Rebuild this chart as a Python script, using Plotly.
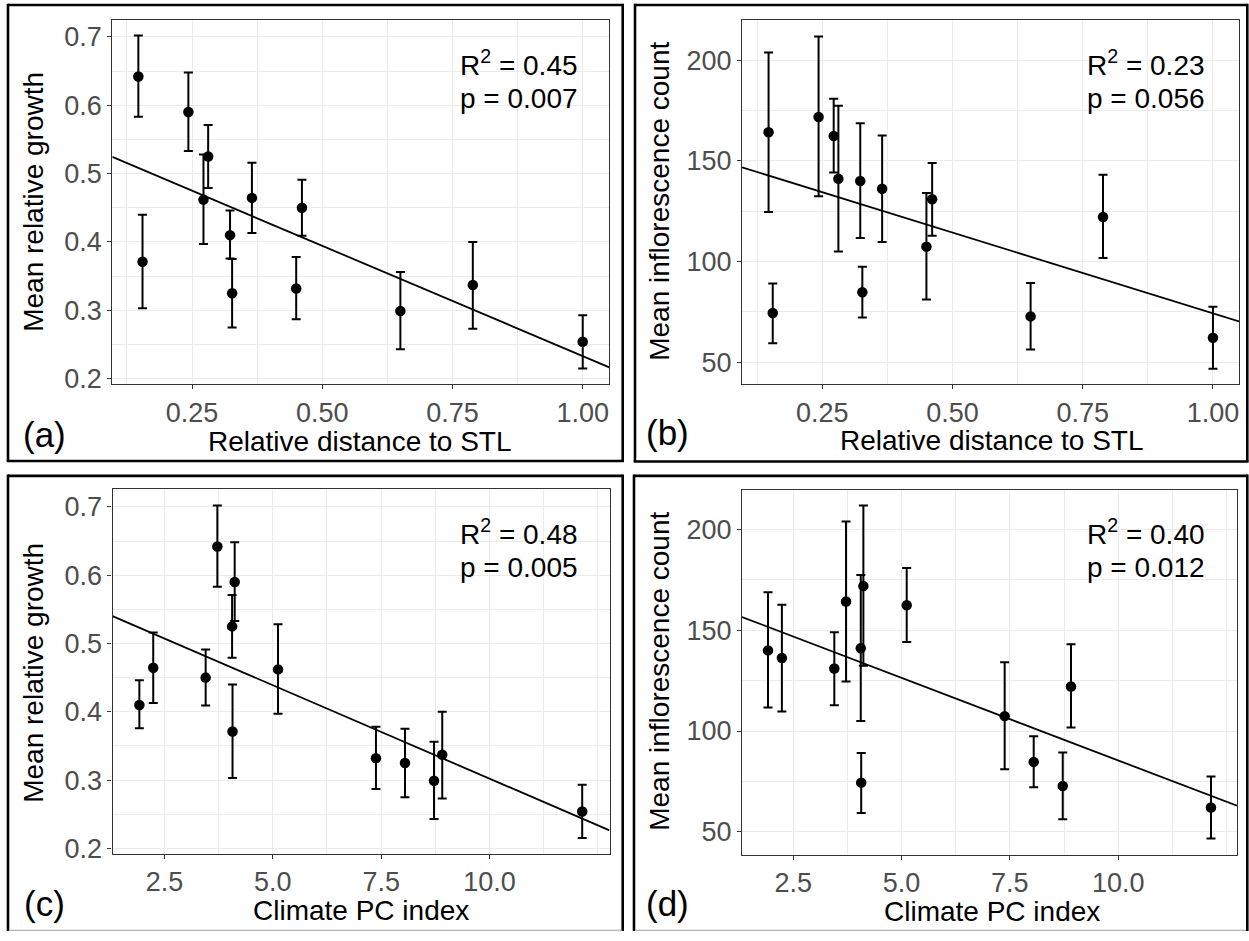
import numpy as np
import plotly.graph_objects as go

# ---------------- data ----------------
rel_distance = [0.147, 0.155, 0.243, 0.272, 0.281, 0.323, 0.327, 0.365, 0.450, 0.461, 0.650, 0.789, 1.000]
climate_pc = [3.72, 4.07, 4.12, 5.12, 4.06, 1.92, 8.05, 2.24, 7.38, 3.45, 8.72, 8.91, 12.14]

growth_mean = [0.642, 0.371, 0.590, 0.462, 0.525, 0.410, 0.325, 0.4645, 0.332, 0.450, 0.299, 0.337, 0.254]
growth_low = [0.583, 0.303, 0.533, 0.397, 0.479, 0.376, 0.275, 0.413, 0.287, 0.409, 0.243, 0.273, 0.215]
growth_high = [0.702, 0.440, 0.648, 0.528, 0.571, 0.446, 0.375, 0.516, 0.378, 0.491, 0.356, 0.400, 0.293]

infl_mean = [164.3, 74.4, 171.9, 162.4, 141.1, 140.0, 84.7, 136.2, 107.4, 131.0, 72.7, 122.1, 62.1]
infl_low = [124.6, 59.3, 132.4, 144.2, 105.0, 111.7, 72.1, 109.7, 81.1, 112.8, 56.2, 101.7, 46.7]
infl_high = [203.9, 89.1, 211.9, 180.9, 177.4, 168.8, 97.4, 162.7, 134.1, 149.0, 89.3, 143.1, 77.5]

dist_ticks = [0.25, 0.50, 0.75, 1.00]
climate_ticks = [2.5, 5.0, 7.5, 10.0]
growth_ticks = [0.2, 0.3, 0.4, 0.5, 0.6, 0.7]
infl_ticks = [50, 100, 150, 200]

r2_labels = ["0.45", "0.23", "0.48", "0.40"]
p_labels = ["0.007", "0.056", "0.005", "0.012"]
panel_tags = ["(a)", "(b)", "(c)", "(d)"]
x_titles = ["Relative distance to STL", "Relative distance to STL", "Climate PC index", "Climate PC index"]
y_titles = ["Mean relative growth", "Mean inflorescence count", "Mean relative growth", "Mean inflorescence count"]

# ---------------- layout helpers ----------------
W, H = 1249, 941
FONT = "Liberation Sans, Arial, Helvetica, sans-serif"
TICK_COLOR = "#4D4D4D"
GRID = "#EBEBEB"


def fx(p):
    return p / W


def fy(p):
    return 1 - p / H


panels = [
    dict(x=rel_distance, y=growth_mean, lo=growth_low, hi=growth_high,
         box=(112.3, 609.3, 20, 388.3), xr=[0.097, 1.051], yr=[0.192, 0.725],
         xt_vals=dist_ticks, xfmt="{:.2f}", xminor=0.125, yt_vals=growth_ticks, yfmt="{:.1f}", yminor=0.05,
         border=(8, 622.7, 5, 466), closed=True,
         tag=(44.7, 439), xt=(360, 446), yt=(34, 204), txt=(458, 64)),
    dict(x=rel_distance, y=infl_mean, lo=infl_low, hi=infl_high,
         box=(742.0, 1239.0, 20, 388.3), xr=[0.096, 1.050], yr=[39.0, 220.2],
         xt_vals=dist_ticks, xfmt="{:.2f}", xminor=0.125, yt_vals=infl_ticks, yfmt="{:d}", yminor=25,
         border=(635, 1247.3, 5, 466.5), closed=True,
         tag=(668, 437), xt=(992, 445), yt=(660, 204), txt=(1085, 64)),
    dict(x=climate_pc, y=growth_mean, lo=growth_low, hi=growth_high,
         box=(112.5, 609.5, 494, 863), xr=[1.30, 12.77], yr=[0.192, 0.7265],
         xt_vals=climate_ticks, xfmt="{:.1f}", xminor=1.25, yt_vals=growth_ticks, yfmt="{:.1f}", yminor=0.05,
         border=(8, 622.7, 481, 941), closed=False,
         tag=(44.7, 913), xt=(361, 920), yt=(34, 680), txt=(458, 538)),
    dict(x=climate_pc, y=infl_mean, lo=infl_low, hi=infl_high,
         box=(742.0, 1237.0, 495, 864), xr=[1.32, 12.74], yr=[38.6, 219.7],
         xt_vals=climate_ticks, xfmt="{:.1f}", xminor=1.25, yt_vals=infl_ticks, yfmt="{:d}", yminor=25,
         border=(634, 1247.3, 481, 941), closed=False,
         tag=(668, 913), xt=(992, 921), yt=(660, 679), txt=(1085, 538)),
]

fig = go.Figure()
layout = dict(
    width=W, height=H, autosize=False,
    margin=dict(l=0, r=0, t=0, b=0),
    paper_bgcolor="white", plot_bgcolor="white",
    showlegend=False,
    font=dict(family=FONT, color="black"),
    annotations=[], shapes=[],
)


def seg(x0, y0, x1, y1, color="black", width=2.6):
    return dict(type="line", xref="paper", yref="paper",
                x0=fx(x0), x1=fx(x1), y0=fy(y0), y1=fy(y1),
                line=dict(color=color, width=width))


for i, p in enumerate(panels):
    n = "" if i == 0 else str(i + 1)
    xa, ya = "x" + n, "y" + n
    x = np.array(p["x"], float)
    y = np.array(p["y"], float)
    lo = np.array(p["lo"], float)
    hi = np.array(p["hi"], float)

    # regression line (OLS over the data), across the whole panel range
    slope, icpt = np.polyfit(x, y, 1)
    xl = np.array(p["xr"])
    fig.add_trace(go.Scatter(x=xl, y=icpt + slope * xl, mode="lines",
                             line=dict(color="black", width=1.8),
                             xaxis=xa, yaxis=ya, hoverinfo="skip"))
    # means with error bars
    fig.add_trace(go.Scatter(x=x, y=y, mode="markers",
                             marker=dict(color="black", size=10.5),
                             error_y=dict(type="data", symmetric=False,
                                          array=hi - y, arrayminus=y - lo,
                                          color="black", thickness=2, width=4.5),
                             xaxis=xa, yaxis=ya, cliponaxis=False))

    l, r, t, b = p["box"]
    common = dict(showline=True, linecolor="#333333", linewidth=1.1, mirror=True,
                  ticks="outside", ticklen=4, tickwidth=1.1, tickcolor="#333333",
                  tickfont=dict(family=FONT, size=27, color=TICK_COLOR),
                  showgrid=True, gridcolor=GRID, gridwidth=1.3, zeroline=False)
    layout["xaxis" + n] = dict(common, domain=[fx(l), fx(r)], range=p["xr"], anchor=ya,
                               tickmode="array", tickvals=p["xt_vals"],
                               ticktext=[p["xfmt"].format(v) for v in p["xt_vals"]],
                               minor=dict(dtick=p["xminor"], tick0=0, showgrid=True,
                                          gridcolor=GRID, gridwidth=0.7, ticks=""))
    layout["yaxis" + n] = dict(common, domain=[fy(b), fy(t)], range=p["yr"], anchor=xa,
                               tickmode="array", tickvals=p["yt_vals"],
                               ticktext=[p["yfmt"].format(v) for v in p["yt_vals"]],
                               minor=dict(dtick=p["yminor"], tick0=0, showgrid=True,
                                          gridcolor=GRID, gridwidth=0.7, ticks=""))

    # outer panel frame (the lower panels are cut at the bottom edge of the image)
    bl, br, bt, bb = p["border"]
    sh = layout["shapes"]
    sh.append(seg(bl, bt, br, bt))
    sh.append(seg(bl, bt - 1.3, bl, bb))
    sh.append(seg(br, bt - 1.3, br, bb))
    if p["closed"]:
        sh.append(seg(bl - 1.3, bb, br + 1.3, bb))
    else:
        sh.append(seg(bl + 1.3, bb - 0.6, br - 1.3, bb - 0.6, color="#B0B0B0", width=1.2))

    ann = layout["annotations"]
    ann.append(dict(text=x_titles[i], xref="paper", yref="paper",
                    x=fx(p["xt"][0]), y=fy(p["xt"][1]), xanchor="center", yanchor="middle",
                    showarrow=False, font=dict(size=28, color="black", family=FONT)))
    ann.append(dict(text=y_titles[i], xref="paper", yref="paper", textangle=-90,
                    x=fx(p["yt"][0]), y=fy(p["yt"][1]), xanchor="center", yanchor="middle",
                    showarrow=False, font=dict(size=28, color="black", family=FONT)))
    ann.append(dict(text=panel_tags[i], xref="paper", yref="paper",
                    x=fx(p["tag"][0]), y=fy(p["tag"][1]), xanchor="center", yanchor="middle",
                    showarrow=False, font=dict(size=35, color="black", family=FONT)))
    tx, ty = p["txt"]
    ann.append(dict(text="R<sup>2</sup> = " + r2_labels[i], xref="paper", yref="paper",
                    x=fx(tx), y=fy(ty), xanchor="left", yanchor="middle",
                    showarrow=False, font=dict(size=28, color="black", family=FONT)))
    ann.append(dict(text="p = " + p_labels[i], xref="paper", yref="paper",
                    x=fx(tx), y=fy(ty + 36), xanchor="left", yanchor="middle",
                    showarrow=False, font=dict(size=28, color="black", family=FONT)))

fig.update_layout(**layout)
page_css = (
    "var de=document.documentElement, bd=document.body;"
    "de.style.margin='0';de.style.padding='0';de.style.overflow='hidden';"
    "bd.style.margin='0';bd.style.padding='0';bd.style.overflow='hidden';"
)
fig.write_html("out.html", config={"displayModeBar": False}, post_script=page_css)
